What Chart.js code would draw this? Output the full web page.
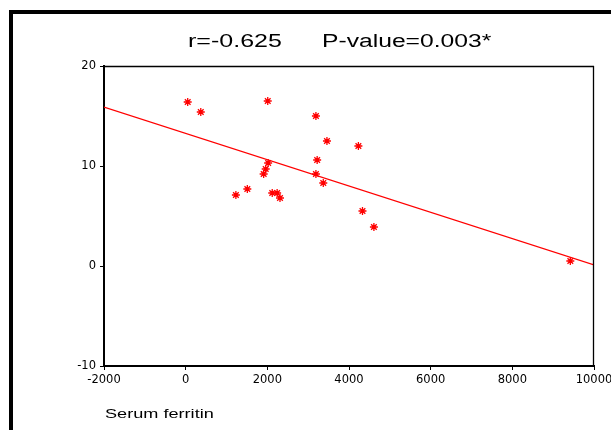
<!DOCTYPE html>
<html>
<head>
<meta charset="utf-8">
<script src="https://cdn.jsdelivr.net/npm/chart.js@4/dist/chart.umd.min.js"></script>
<style>
  body { margin: 0; background: #fff; }
  canvas { display: block; }
</style>
</head>
<body>
<canvas id="myChart" width="611" height="430"></canvas>
<script>
// Data
const ferritin = [50, 370, 2010, 3190, 3460, 4230, 3220, 2020, 1960, 1910, 3190, 3370, 1230, 1510, 2120, 2240, 2310, 4330, 4610, 9420];
const outcome = [16.4, 15.4, 16.5, 15.0, 12.5, 12.0, 10.6, 10.3, 9.7, 9.2, 9.2, 8.3, 7.1, 7.7, 7.3, 7.3, 6.8, 5.5, 3.9, 0.5];

// fitted line, ends
const fitX = [-2000, 10000];
const fitY = [15.9, 0.1];

const xTicks = [-2000, 0, 2000, 4000, 6000, 8000, 10000];
const yTicks = [-10, 0, 10, 20];

const titleLeft = 'r=-0.625';
const titleRight = 'P-value=0.003*';
const xTitle = 'Serum ferritin';

// stretched text helper (the original picture is wider than tall)
function wideText(ctx, txt, x, y, size, sx) {
    ctx.save();
    ctx.font = size + 'px "Liberation Sans", Arial, sans-serif';
    ctx.fillStyle = '#000';
    ctx.textBaseline = 'alphabetic';
    ctx.textAlign = 'left';
    ctx.translate(x, y);
    ctx.scale(sx, 1);
    ctx.fillText(txt, 0, 0);
    ctx.restore();
}

const framePlugin = {
    id: 'frame',
    beforeDraw(chart) {
        const ctx = chart.ctx;
        ctx.save();
        ctx.fillStyle = '#fff';
        ctx.fillRect(0, 0, chart.width, chart.height);
        // outer black frame (only top and left are inside the picture)
        ctx.fillStyle = '#000';
        ctx.fillRect(9, 10, chart.width - 9, 4);
        ctx.fillRect(9, 10, 4, chart.height - 10);
        ctx.restore();
    },
    afterDraw(chart) {
        const ctx = chart.ctx;
        const xs = chart.scales.x, ys = chart.scales.y;
        const l = xs.getPixelForValue(xs.min), r = xs.getPixelForValue(xs.max);
        const t = ys.getPixelForValue(ys.max), b = ys.getPixelForValue(ys.min);
        // thin top and right box lines
        ctx.save();
        ctx.strokeStyle = '#000';
        ctx.lineWidth = 1.3;
        ctx.beginPath();
        ctx.moveTo(l, Math.round(t) + 0.5);
        ctx.lineTo(r, Math.round(t) + 0.5);
        ctx.moveTo(Math.round(r) - 0.5, t);
        ctx.lineTo(Math.round(r) - 0.5, b);
        ctx.stroke();
        ctx.restore();

        wideText(ctx, titleLeft, 188, 47, 18, 1.39);
        wideText(ctx, titleRight, 322, 47, 18, 1.37);
        wideText(ctx, xTitle, 105, 418, 12.5, 1.45);
    }
};

const points = ferritin.map((v, i) => ({ x: v, y: outcome[i] }));
const fitLine = fitX.map((v, i) => ({ x: v, y: fitY[i] }));

const tickFont = { family: '"DejaVu Sans", sans-serif', size: 11.5 };

function noPad(s) {
    s.paddingLeft = 0;
    s.paddingRight = 0;
    s.paddingTop = 0;
    s.paddingBottom = 0;
}

const config = {
    type: 'scatter',
    data: {
        datasets: [
            {
                type: 'line',
                data: fitLine,
                borderColor: 'rgb(255,0,0)',
                borderWidth: 1.2,
                pointRadius: 0,
                fill: false
            },
            {
                data: points,
                pointStyle: 'star',
                pointRadius: 4,
                borderColor: 'rgb(255,0,0)',
                backgroundColor: 'rgb(255,0,0)',
                borderWidth: 1.3
            }
        ]
    },
    options: {
        responsive: false,
        animation: false,
        layout: { padding: { left: 0, right: 17, top: 66, bottom: 0 } },
        plugins: {
            legend: { display: false },
            tooltip: { enabled: false },
            title: { display: false }
        },
        scales: {
            x: {
                type: 'linear',
                min: -2000,
                max: 10000,
                afterBuildTicks: s => { s.ticks = xTicks.map(v => ({ value: v })); },
                afterFit: s => { s.height = 64; noPad(s); },
                grid: { drawOnChartArea: false, drawTicks: true, tickLength: 4, color: '#000', lineWidth: 1 },
                border: { display: true, color: '#000', width: 2 },
                ticks: { color: '#000', font: tickFont, padding: 3, maxRotation: 0, callback: v => String(v) }
            },
            y: {
                type: 'linear',
                min: -10,
                max: 20,
                afterBuildTicks: s => { s.ticks = yTicks.map(v => ({ value: v })); },
                afterFit: s => { s.width = 104; noPad(s); },
                grid: { drawOnChartArea: false, drawTicks: true, tickLength: 4, color: '#000', lineWidth: 1 },
                border: { display: true, color: '#000', width: 2 },
                ticks: { color: '#000', font: tickFont, padding: 4, callback: v => String(v) }
            }
        }
    },
    plugins: [framePlugin]
};

const myChart = new Chart(document.getElementById('myChart'), config);
</script>
</body>
</html>
